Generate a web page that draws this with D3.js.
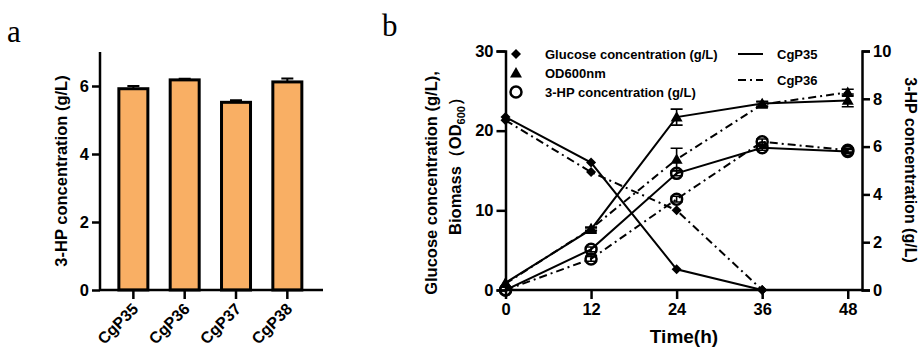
<!DOCTYPE html>
<html>
<head>
<meta charset="utf-8">
<script src="https://cdn.jsdelivr.net/npm/d3@7"></script>
<style>
  body { margin: 0; background: #fff; }
  svg { font-family: "Liberation Sans", Arial, sans-serif; font-weight: bold; }
</style>
</head>
<body>
<svg id="chart" width="921" height="353"></svg>
<script>
// panel a data
const strains = ['CgP35', 'CgP36', 'CgP37', 'CgP38'];
const hpTiter = [5.92, 6.18, 5.52, 6.12];
const hpTiterErr = [0.08, 0.03, 0.06, 0.1];
const aTicks = [0, 2, 4, 6];

// panel b data
const hours = [0, 12, 24, 36, 48];
const glucose35 = [21.7, 16.0, 2.6, 0, null];
const glucose36 = [21.3, 14.8, 10.0, 0, null];
const od35 = [0.9, 7.6, 21.7, 23.4, 23.8];
const od36 = [0.8, 7.7, 16.4, 23.3, 24.8];
const od35Err = [0, 0.2, 1.0, 0.3, 0.8];
const od36Err = [0, 0.2, 1.4, 0.3, 0.4];
const hp35 = [0, 1.7, 4.88, 5.95, 5.8];
const hp36 = [0, 1.3, 3.8, 6.2, 5.85];
const hp35Err = [0, 0.1, 0.1, 0.1, 0.08];
const hp36Err = [0, 0.1, 0.12, 0.12, 0.08];
const leftTicks = [0, 10, 20, 30];
const rightTicks = [0, 2, 4, 6, 8, 10];

const svg = d3.select('#chart');
const DASHDOT = '8,4,2,4';

// ---------- panel a ----------
svg.append('text').attr('x', 7).attr('y', 42)
   .style('font-family', '"Liberation Serif", "Times New Roman", serif')
   .style('font-weight', 'normal').style('font-size', '31px').text('a');

const xa = d3.scaleBand().domain(strains).range([107.7, 313])
             .paddingInner(0.435).paddingOuter(0.2175);
const ya = d3.scaleLinear().domain([0, 7]).range([290, 52]);

const ga = svg.append('g');
ga.selectAll('.bar').data(strains).enter().append('rect')
  .attr('class', 'bar')
  .attr('x', d => xa(d))
  .attr('y', (d, i) => ya(hpTiter[i]))
  .attr('width', xa.bandwidth())
  .attr('height', (d, i) => ya(0) - ya(hpTiter[i]))
  .attr('fill', '#F9AF64').attr('stroke', '#000').attr('stroke-width', 3);

// error bars (upper)
ga.selectAll('.err').data(strains).enter().append('path')
  .attr('d', (d, i) => {
    const cx = xa(d) + xa.bandwidth() / 2;
    const y0 = ya(hpTiter[i]), y1 = ya(hpTiter[i] + hpTiterErr[i]);
    return `M${cx},${y0}V${y1}M${cx - 6},${y1}H${cx + 6}`;
  })
  .attr('stroke', '#000').attr('stroke-width', 2).attr('fill', 'none');

const axA = ga.append('g').attr('transform', 'translate(100,0)')
  .call(d3.axisLeft(ya).tickValues(aTicks).tickFormat(d3.format('d')).tickSize(8).tickPadding(3));
axA.select('.domain').attr('d', `M0,${ya(7)}V${ya(0)}`);

const axAx = ga.append('g').attr('transform', 'translate(0,290)')
  .call(d3.axisBottom(xa).tickSize(9).tickFormat(''));
axAx.select('.domain').attr('d', 'M100,0H323');

[axA, axAx].forEach(a => {
  a.selectAll('path,line').attr('stroke', '#000').attr('stroke-width', 2.5);
  a.selectAll('text').style('font-size', '16.5px').style('font-family', null).attr('fill', '#000');
});

ga.selectAll('.xl').data(strains).enter().append('text')
  .attr('transform', d => `translate(${xa(d) + xa.bandwidth() / 2 + 6},${310}) rotate(-45)`)
  .attr('text-anchor', 'end').style('font-size', '16px').text(d => d);

ga.append('text').attr('transform', 'translate(67,171) rotate(-90)')
  .attr('text-anchor', 'middle').style('font-size', '16.5px')
  .text('3-HP concentration (g/L)');

// ---------- panel b ----------
svg.append('text').attr('x', 382).attr('y', 36)
   .style('font-family', '"Liberation Serif", "Times New Roman", serif')
   .style('font-weight', 'normal').style('font-size', '31px').text('b');

const xb = d3.scaleLinear().domain([0, 50]).range([505.5, 862]);
const yl = d3.scaleLinear().domain([0, 30]).range([290, 51]);
const yr = d3.scaleLinear().domain([0, 10]).range([290, 51]);

const gb = svg.append('g');

const axL = gb.append('g').attr('transform', 'translate(505.5,0)')
  .call(d3.axisLeft(yl).tickValues(leftTicks).tickSize(9).tickPadding(3));
const axR = gb.append('g').attr('transform', 'translate(862,0)')
  .call(d3.axisRight(yr).tickValues(rightTicks).tickSize(8).tickPadding(3));
const axB = gb.append('g').attr('transform', 'translate(0,290)')
  .call(d3.axisBottom(xb).tickValues(hours).tickSize(9).tickPadding(4));
axB.select('.domain').attr('d', 'M505.5,0H862');
[axL, axR, axB].forEach(a => {
  a.selectAll('path,line').attr('stroke', '#000').attr('stroke-width', 2.5);
  a.selectAll('text').style('font-size', '16.5px').style('font-family', null).attr('fill', '#000');
});

const series = [
  { vals: glucose35, err: null, y: yl, dash: null, sym: 'diamond' },
  { vals: glucose36, err: null, y: yl, dash: DASHDOT, sym: 'diamond' },
  { vals: od35, err: od35Err, y: yl, dash: null, sym: 'triangle' },
  { vals: od36, err: od36Err, y: yl, dash: DASHDOT, sym: 'triangle' },
  { vals: hp35, err: hp35Err, y: yr, dash: null, sym: 'circle' },
  { vals: hp36, err: hp36Err, y: yr, dash: DASHDOT, sym: 'circle' }
];

const diamond = d3.symbol().type(d3.symbolSquare).size(50);
const triangle = d3.symbol().type(d3.symbolTriangle).size(62);

function drawMarker(g, sym, x, y) {
  if (sym === 'circle') {
    g.append('circle').attr('cx', x).attr('cy', y).attr('r', 5.5)
     .attr('fill', 'none').attr('stroke', '#000').attr('stroke-width', 2.5);
  } else if (sym === 'diamond') {
    g.append('path').attr('d', diamond())
     .attr('transform', `translate(${x},${y}) rotate(45)`).attr('fill', '#000');
  } else {
    g.append('path').attr('d', triangle())
     .attr('transform', `translate(${x},${y + 1})`).attr('fill', '#000');
  }
}

series.forEach(s => {
  const pts = hours.map((h, i) => ({ h, v: s.vals[i], e: s.err ? s.err[i] : 0 }))
                   .filter(p => p.v !== null);
  const line = d3.line().x(p => xb(p.h)).y(p => s.y(p.v));
  gb.append('path').attr('d', line(pts)).attr('fill', 'none')
    .attr('stroke', '#000').attr('stroke-width', 2)
    .attr('stroke-dasharray', s.dash);
  pts.forEach(p => {
    if (p.e > 0) {
      const cx = xb(p.h), y1 = s.y(p.v + p.e), y2 = s.y(p.v - p.e);
      gb.append('path')
        .attr('d', `M${cx},${y2}V${y1}M${cx - 6},${y1}H${cx + 6}M${cx - 6},${y2}H${cx + 6}`)
        .attr('stroke', '#000').attr('stroke-width', 1.6).attr('fill', 'none');
    }
    drawMarker(gb, s.sym, xb(p.h), s.y(p.v));
  });
});

// legend
const legendItems = [
  { sym: 'diamond', label: 'Glucose concentration (g/L)', y: 54 },
  { sym: 'triangle', label: 'OD600nm', y: 73 },
  { sym: 'circle', label: '3-HP concentration (g/L)', y: 92 }
];
const lg = gb.append('g');
legendItems.forEach(it => {
  drawMarker(lg, it.sym, 516, it.y);
  lg.append('text').attr('x', 545).attr('y', it.y + 4.5)
    .style('font-size', '13px').text(it.label);
});
const lineItems = [
  { dash: null, label: 'CgP35', y: 54 },
  { dash: DASHDOT, label: 'CgP36', y: 80 }
];
lineItems.forEach(it => {
  lg.append('line').attr('x1', 738).attr('x2', 763).attr('y1', it.y).attr('y2', it.y)
    .attr('stroke', '#000').attr('stroke-width', 2).attr('stroke-dasharray', it.dash);
  lg.append('text').attr('x', 777).attr('y', it.y + 4.5)
    .style('font-size', '13px').text(it.label);
});

// axis titles
gb.append('text').attr('transform', 'translate(437,183) rotate(-90)')
  .attr('text-anchor', 'middle').style('font-size', '16.5px')
  .text('Glucose concentration (g/L),');
const t2 = gb.append('text').attr('transform', 'translate(461,162) rotate(-90)')
  .attr('text-anchor', 'middle').style('font-size', '16.5px');
t2.append('tspan').text('Biomass（OD');
t2.append('tspan').attr('dy', 4).style('font-size', '11px').text('600');
t2.append('tspan').attr('dy', -4).text('）');

// right title, kept just inside the right edge
gb.append('text').attr('transform', 'translate(905,170) rotate(90)')
  .attr('text-anchor', 'middle').style('font-size', '16px')
  .text('3-HP concentration (g/L)');

gb.append('text').attr('x', 684).attr('y', 343).attr('text-anchor', 'middle')
  .style('font-size', '19px').text('Time(h)');
</script>
</body>
</html>
